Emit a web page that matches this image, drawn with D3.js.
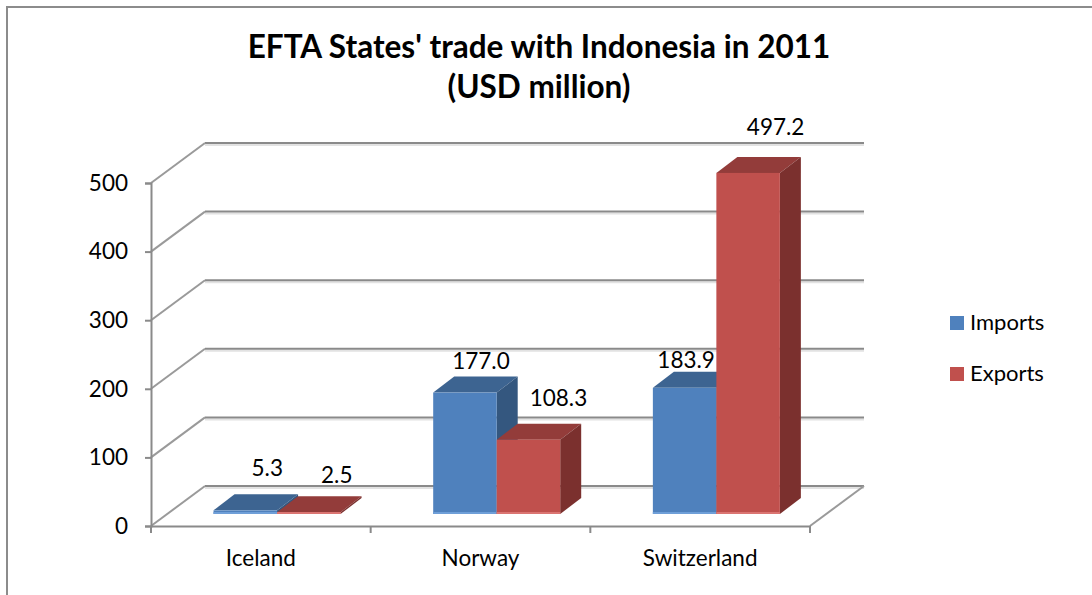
<!DOCTYPE html>
<html>
<head>
<meta charset="utf-8">
<script src="https://cdn.jsdelivr.net/npm/d3@7"></script>
<style>
  html, body { margin: 0; padding: 0; background: #fff; }
  svg { display: block; }
  text { font-family: Lato, "Open Sans", sans-serif; fill: #000; }
</style>
</head>
<body>
<svg width="1092" height="595"></svg>
<script>
// EFTA trade chart, fake 3D columns like the office chart style

const categories = ['Iceland', 'Norway', 'Switzerland'];
const seriesNames = ['Imports', 'Exports'];
const imports = [5.3, 177.0, 183.9];
const exports_ = [2.5, 108.3, 497.2];
const yTicks = [0, 100, 200, 300, 400, 500];
const titleLines = ["EFTA States' trade with Indonesia in 2011", '(USD million)'];

const values = [imports, exports_];
const faces = [
  { front: '#4f81bd', top: '#3d6491', side: '#34577f', base: '#6f9fd8' },
  { front: '#c0504d', top: '#933c3a', side: '#7b302e', base: '#db7572' }
];

const svg = d3.select('svg');

// depth of the room and of the columns
const room = { dx: 54, dy: -40 };
const bar = { dx: 21, dy: -16, lift: -12, shift: 16.2 };
const axisCol = '#8a8a8a';

const x = d3.scaleBand().domain(categories).range([151, 810]);
const inner = d3.scaleBand().domain(d3.range(seriesNames.length)).range([0, 127]);
const y = d3.scaleLinear().domain([0, 500]).range([526, 183]);

// frame of the chart area
svg.append('path')
  .attr('d', 'M7,595V7H1092')
  .attr('fill', 'none')
  .attr('stroke', '#8c8c8c')
  .attr('stroke-width', 2);

// title
svg.append('g').selectAll('text')
  .data(titleLines)
  .join('text')
  .attr('x', 539)
  .attr('y', (d, i) => 58 + i * 40)
  .attr('text-anchor', 'middle')
  .attr('font-size', 31.5)
  .attr('font-weight', 700)
  .text(d => d);

// back wall gridlines + side wall diagonals
const grid = svg.append('g');
const x0 = x.range()[0], x1 = x.range()[1];

grid.selectAll('.shadow')
  .data(yTicks)
  .join('line')
  .attr('class', 'shadow')
  .attr('x1', x0 + room.dx).attr('x2', x1 + room.dx)
  .attr('y1', d => y(d) + room.dy + 2).attr('y2', d => y(d) + room.dy + 2)
  .attr('stroke', '#e2e2e2')
  .attr('stroke-width', 2);

grid.selectAll('.back')
  .data(yTicks)
  .join('line')
  .attr('class', 'back')
  .attr('x1', x0 + room.dx).attr('x2', x1 + room.dx)
  .attr('y1', d => y(d) + room.dy).attr('y2', d => y(d) + room.dy)
  .attr('stroke', axisCol)
  .attr('stroke-width', 2);

grid.selectAll('.diag')
  .data(yTicks)
  .join('line')
  .attr('class', 'diag')
  .attr('x1', x0).attr('x2', x0 + room.dx)
  .attr('y1', d => y(d)).attr('y2', d => y(d) + room.dy)
  .attr('stroke', '#9a9a9a')
  .attr('stroke-width', 2);

// right edge of the floor
grid.append('line')
  .attr('x1', x1).attr('x2', x1 + room.dx)
  .attr('y1', y(0)).attr('y2', y(0) + room.dy)
  .attr('stroke', '#9a9a9a')
  .attr('stroke-width', 2);

// axes
const yAxis = svg.append('g')
  .attr('transform', 'translate(' + x0 + ',0)')
  .call(d3.axisLeft(y).tickValues(yTicks).tickSize(6).tickPadding(17));

const xAxis = svg.append('g')
  .attr('transform', 'translate(0,' + y(0) + ')')
  .call(d3.axisBottom(x).tickSize(0).tickPadding(24));

[yAxis, xAxis].forEach(a => {
  a.selectAll('path.domain').attr('stroke', axisCol).attr('stroke-width', 2);
  a.selectAll('line').attr('stroke', axisCol).attr('stroke-width', 2);
  a.selectAll('text').attr('font-size', 22.5).attr('font-family', 'Lato').attr('fill', '#000');
});

// ticks between the categories on the floor axis
xAxis.selectAll('.sep')
  .data(categories.concat(['end']))
  .join('line')
  .attr('class', 'sep')
  .attr('x1', (d, i) => x0 + i * x.bandwidth())
  .attr('x2', (d, i) => x0 + i * x.bandwidth())
  .attr('y1', 0)
  .attr('y2', 7)
  .attr('stroke', axisCol)
  .attr('stroke-width', 2);

// columns
const rows = [];
categories.forEach((c, ci) => {
  seriesNames.forEach((s, si) => {
    rows.push({ c, si, v: values[si][ci] });
  });
});

const groupStart = c => x(c) + (x.bandwidth() - inner.range()[1]) / 2 + bar.shift;
const poly = pts => pts.map(p => p.join(',')).join(' ');

const cols = svg.append('g').selectAll('g')
  .data(rows)
  .join('g')
  .each(function (d) {
    const g = d3.select(this);
    const l = groupStart(d.c) + inner(d.si);
    const r = l + inner.bandwidth();
    const t = y(d.v) + bar.lift;
    const b = y(0) + bar.lift;
    const f = faces[d.si];
    g.append('polygon')
      .attr('points', poly([[l, t], [l + bar.dx, t + bar.dy], [r + bar.dx, t + bar.dy], [r, t]]))
      .attr('fill', f.top);
    g.append('polygon')
      .attr('points', poly([[r, t], [r + bar.dx, t + bar.dy], [r + bar.dx, b + bar.dy], [r, b]]))
      .attr('fill', f.side);
    g.append('rect')
      .attr('x', l).attr('y', t)
      .attr('width', r - l).attr('height', b - t)
      .attr('fill', f.front);
    g.append('rect')
      .attr('x', l).attr('y', b - 2)
      .attr('width', r - l).attr('height', 2)
      .attr('fill', f.base);
  });

// value labels, hand nudged from the default spot over each column
const labelNudge = [[22, -34], [28, -29], [16, -24], [30, -34], [1.5, -20], [27.5, -38]];
svg.append('g').selectAll('text')
  .data(rows)
  .join('text')
  .attr('x', (d, i) => groupStart(d.c) + inner(d.si) + inner.bandwidth() / 2 + labelNudge[i][0])
  .attr('y', (d, i) => y(d.v) + bar.lift + labelNudge[i][1])
  .attr('text-anchor', 'middle')
  .attr('font-size', 22.5)
  .text(d => d.v.toFixed(1));

// legend
const legend = svg.append('g').selectAll('g')
  .data(seriesNames)
  .join('g')
  .attr('transform', (d, i) => 'translate(950,' + (316 + i * 51) + ')');

legend.append('rect')
  .attr('width', 14)
  .attr('height', 14)
  .attr('fill', (d, i) => faces[i].front);

legend.append('text')
  .attr('x', 20)
  .attr('y', 14)
  .attr('font-size', 22)
  .text(d => d);
</script>
</body>
</html>
